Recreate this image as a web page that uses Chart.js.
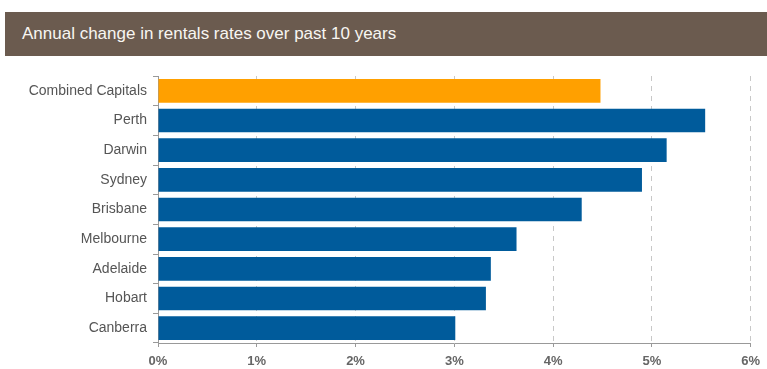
<!DOCTYPE html>
<html>
<head>
<meta charset="utf-8">
<script src="https://cdn.jsdelivr.net/npm/chart.js@4/dist/chart.umd.min.js"></script>
<style>
    body { margin: 0; background: #fff; }
    #wrap { position: relative; width: 767px; height: 369px; overflow: hidden; }
    #title {
        position: absolute; left: 5px; top: 12px; width: 762px; height: 44px;
        background: #6b5b4f; color: #f8f6f2;
        font: 17px "Liberation Sans", Arial, sans-serif;
        line-height: 44px; padding-left: 17px; box-sizing: border-box;
    }
    canvas { position: absolute; left: 0; top: 0; }
</style>
</head>
<body>
<div id="wrap">
    <div id="title">Annual change in rentals rates over past 10 years</div>
    <canvas id="chart" width="767" height="369"></canvas>
</div>
<script>
const cities = ['Combined Capitals', 'Perth', 'Darwin', 'Sydney', 'Brisbane', 'Melbourne', 'Adelaide', 'Hobart', 'Canberra'];
const rentGrowth = [4.48, 5.54, 5.15, 4.90, 4.29, 3.63, 3.37, 3.32, 3.01];
const barColors = ['#ffa000', '#005b9b', '#005b9b', '#005b9b', '#005b9b', '#005b9b', '#005b9b', '#005b9b', '#005b9b'];

const ctx = document.getElementById('chart').getContext('2d');
new Chart(ctx, {
    type: 'bar',
    data: {
        labels: cities,
        datasets: [{
            data: rentGrowth,
            backgroundColor: barColors,
            barPercentage: 0.8,
            categoryPercentage: 1.0
        }]
    },
    options: {
        indexAxis: 'y',
        responsive: false,
        animation: false,
        layout: { padding: { top: 76, right: 15, left: 0, bottom: 0 } },
        plugins: { legend: { display: false }, tooltip: { enabled: false } },
        scales: {
            x: {
                min: 0,
                max: 6,
                ticks: {
                    stepSize: 1,
                    callback: v => v + '%',
                    color: '#666',
                    font: { family: 'Liberation Sans, Arial, sans-serif', size: 13, weight: 'bold' },
                    padding: 7
                },
                grid: {
                    color: '#c8c8c8',
                    borderDash: [5, 5],
                    tickBorderDash: [],
                    tickColor: '#999',
                    tickLength: 4
                },
                border: { display: true, color: '#999', dash: [5, 5] },
                afterFit: s => { s.height = 26; }
            },
            y: {
                ticks: {
                    color: '#555',
                    font: { family: 'Liberation Sans, Arial, sans-serif', size: 14 },
                    padding: 6
                },
                grid: {
                    drawOnChartArea: false,
                    color: '#999',
                    tickLength: 5
                },
                border: { display: true, color: '#999' },
                afterFit: s => { s.width = 158; }
            }
        }
    }
});
</script>
</body>
</html>
